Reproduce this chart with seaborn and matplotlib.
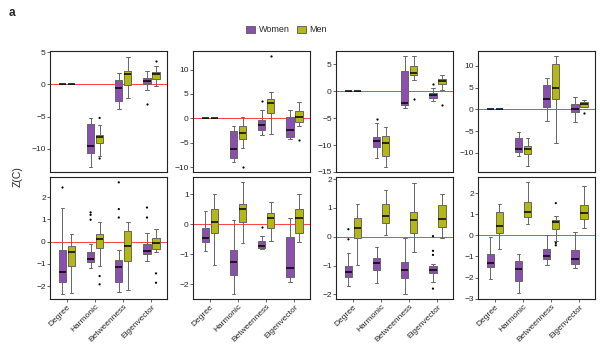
import numpy as np
import pandas as pd
import matplotlib
matplotlib.use("Agg")
import matplotlib.pyplot as plt
from matplotlib.ticker import MultipleLocator
import seaborn as sns

measures = ["Degree", "Harmonic", "Betweenness", "Eigenvector"]
genders = ["Women", "Men"]
colors = {"Women": "#8B4FAE", "Men": "#B5B712"}

# five numbers per box: lower whisker, q1, median, q3, upper whisker
# top row
t1_women = [[0, 0, 0, 0, 0], [-12.8, -10.7, -9.6, -6.15, -5.2], [-3.85, -2.6, -0.5, 0.7, 1.8], [-0.9, 0.1, 0.5, 1.0, 2.15]]
t1_men = [[0, 0, 0, 0, 0], [-11.1, -9.1, -8.1, -7.8, -6.3], [-2.05, -0.1, 1.7, 2.15, 4.25], [-0.25, 0.9, 1.6, 1.9, 2.9]]
t1_women_out = [[], [], [], [-3.0]]
t1_men_out = [[], [-5.2, -11.5], [], [3.6]]

t2_women = [[0, 0, 0, 0, 0], [-9.0, -8.16, -6.26, -2.5, -1.56], [-3.5, -2.4, -1.3, -0.35, 1.8], [-4.3, -3.75, -2.4, 0.2, 1.7]]
t2_men = [[0, 0, 0, 0, 0], [-6.0, -4.2, -3.06, -1.56, 0.2], [-3.3, 1.0, 3.2, 3.9, 5.3], [-1.56, -0.8, 0.34, 1.5, 3.4]]
t2_women_out = [[], [], [3.5], []]
t2_men_out = [[], [-9.9], [12.8], [-4.4]]

t3_women = [[0, 0, 0, 0, 0], [-12.4, -10.4, -9.2, -8.5, -5.9], [-3.1, -2.6, -2.2, 3.8, 6.5], [-1.85, -1.2, -0.74, -0.3, 0.6]]
t3_men = [[0, 0, 0, 0, 0], [-14.0, -12.0, -9.7, -8.3, -6.6], [2.2, 3.0, 3.5, 4.7, 6.5], [0.3, 1.4, 1.85, 2.35, 3.1]]
t3_women_out = [[], [-5.2], [], [1.4]]
t3_men_out = [[], [], [-1.4], [-2.6]]

t4_women = [[0, 0, 0, 0, 0], [-10.7, -9.8, -9.2, -6.6, -5.3], [-2.7, 0.6, 2.3, 5.7, 7.1], [-2.8, -0.5, 0.08, 1.15, 2.9]]
t4_men = [[0, 0, 0, 0, 0], [-13.1, -10.3, -9.2, -8.4, -6.6], [-7.8, 2.3, 4.8, 10.5, 12.3], [0.5, 0.6, 1.15, 1.7, 2.1]]
t4_women_out = [[], [], [], []]
t4_men_out = [[], [], [], [-0.9]]

# bottom row
b1_women = [[-2.36, -1.83, -1.38, -0.38, 1.5], [-1.17, -0.93, -0.78, -0.45, -0.1], [-2.28, -1.83, -1.13, -0.83, -0.4], [-0.87, -0.57, -0.42, -0.12, 0.4]]
b1_men = [[-2.3, -1.08, -0.48, -0.18, 0.33], [-1.1, -0.3, 0.1, 0.33, 0.9], [-2.18, -0.87, -0.2, 0.48, 0.86], [-0.48, -0.33, -0.05, 0.18, 0.56]]
b1_women_out = [[2.44], [1.31, 1.2, 0.98], [2.66, 1.46, 1.08], [1.53, 1.08]]
b1_men_out = [[], [-1.55, -1.92], [], [-1.43, -1.85]]

b2_women = [[-0.9, -0.61, -0.48, -0.14, 0.44], [-2.33, -1.7, -1.28, -0.87, 0.13], [-0.84, -0.79, -0.72, -0.56, -0.39], [-1.94, -1.76, -1.46, -0.44, 0.21]]
b2_men = [[-1.37, -0.31, 0.08, 0.5, 0.99], [-0.62, 0.08, 0.49, 0.67, 1.39], [-0.56, -0.12, 0.19, 0.38, 0.72], [-0.61, -0.31, 0.19, 0.49, 0.99]]
b2_women_out = [[], [], [-0.09], []]
b2_men_out = [[], [], [], []]

b3_women = [[-1.7, -1.4, -1.21, -1.03, -0.57], [-1.59, -1.15, -0.9, -0.75, -0.37], [-1.98, -1.44, -1.15, -0.89, -0.03], [-1.57, -1.26, -1.17, -1.03, -0.95]]
b3_men = [[-0.98, -0.06, 0.29, 0.66, 1.13], [0.06, 0.46, 0.72, 1.13, 1.63], [-0.54, 0.14, 0.57, 0.86, 1.87], [-0.06, 0.34, 0.63, 1.09, 1.49]]
b3_women_out = [[0.26, -0.09], [], [], [0.02, -0.49, -0.63, -1.8]]
b3_men_out = [[], [], [], []]

b4_women = [[-2.05, -1.5, -1.31, -0.87, -0.09], [-2.72, -2.18, -1.6, -1.2, -0.88], [-1.39, -1.12, -0.96, -0.65, 0.0], [-1.54, -1.35, -1.1, -0.68, 0.16]]
b4_men = [[-0.65, 0.11, 0.43, 1.1, 1.48], [0.54, 0.85, 1.09, 1.57, 2.52], [-0.25, 0.31, 0.63, 0.74, 0.94], [0.35, 0.77, 1.06, 1.45, 2.36]]
b4_women_out = [[], [], [], []]
b4_men_out = [[], [], [1.53, -0.36, -0.47], []]

panels = [
    (t1_women, t1_men, t1_women_out, t1_men_out, (-13.6, 5.2), 5),
    (t2_women, t2_men, t2_women_out, t2_men_out, (-11.0, 13.8), 5),
    (t3_women, t3_men, t3_women_out, t3_men_out, (-15.0, 7.5), 5),
    (t4_women, t4_men, t4_women_out, t4_men_out, (-14.4, 13.4), 5),
    (b1_women, b1_men, b1_women_out, b1_men_out, (-2.58, 2.9), 1),
    (b2_women, b2_men, b2_women_out, b2_men_out, (-2.5, 1.57), 1),
    (b3_women, b3_men, b3_women_out, b3_men_out, (-2.16, 2.07), 1),
    (b4_women, b4_men, b4_women_out, b4_men_out, (-3.02, 2.77), 1),
]


def to_long(women, men):
    rows = []
    for g, boxes in (("Women", women), ("Men", men)):
        for m, vals in zip(measures, boxes):
            for v in vals:
                rows.append((m, g, v))
    return pd.DataFrame(rows, columns=["measure", "gender", "value"])


sns.set_style("white")
plt.rcParams["font.family"] = ["Liberation Sans", "DejaVu Sans"]

fig = plt.figure(figsize=(6, 3.6), dpi=100)
lefts = [50, 193, 336, 478]
# 5-level hue order so strip dots sit at +-0.16, same as the boxes
strip_order = ["_a", "Women", "_b", "Men", "_c"]
strip_pal = {k: "black" for k in strip_order}

for i, (w, m, wo, mo, ylim, step) in enumerate(panels):
    row, col = divmod(i, 4)
    top, bot = (51, 172) if row == 0 else (177, 299)
    ax = fig.add_axes([lefts[col] / 600, 1 - bot / 360, 117 / 600, (bot - top) / 360])
    ax.axhline(0, color="red", lw=0.7, alpha=0.75, zorder=0)

    boxes = to_long(w, m)
    sns.boxplot(data=boxes, x="measure", y="value", hue="gender", order=measures,
                hue_order=genders, palette=colors, whis=(0, 100), width=0.64, gap=0.2,
                linecolor="#666666", linewidth=0.7, saturation=1, legend=(i == 0),
                medianprops={"color": "black", "linewidth": 1.1}, ax=ax)

    outs = to_long(wo, mo)
    if len(outs):
        sns.stripplot(data=outs, x="measure", y="value", hue="gender", order=measures,
                      hue_order=strip_order, palette=strip_pal, dodge=True, jitter=False,
                      size=1.6, legend=False, ax=ax)

    ax.set_xlim(-0.6, 3.55)
    ax.set_ylim(*ylim)
    ax.yaxis.set_major_locator(MultipleLocator(step))
    ax.set_xlabel("")
    ax.set_ylabel("")
    for s in ax.spines.values():
        s.set_color("#222222")
        s.set_linewidth(0.8)
    ax.tick_params(axis="y", labelsize=6, length=2, width=0.5, pad=1, left=True)
    if row == 0:
        ax.tick_params(axis="x", bottom=False, labelbottom=False)
    else:
        ax.tick_params(axis="x", labelsize=6, length=2, width=0.5, pad=1, bottom=True)
        plt.setp(ax.get_xticklabels(), rotation=45, ha="right", rotation_mode="anchor")

    if i == 0:
        handles, labels = ax.get_legend_handles_labels()
        ax.get_legend().remove()

fig.legend(handles, labels, loc="center", bbox_to_anchor=(0.478, 0.917), ncol=2,
           frameon=False, fontsize=6.5, handlelength=1.0, handleheight=0.8,
           columnspacing=0.8, handletextpad=0.4)
fig.text(0.03, 0.51, "Z(C)", rotation=90, ha="center", va="center", fontsize=7.5)
fig.text(0.015, 0.965, "a", fontsize=8.5, fontweight="bold", ha="left", va="center")

fig.savefig("out.png", dpi=100)
